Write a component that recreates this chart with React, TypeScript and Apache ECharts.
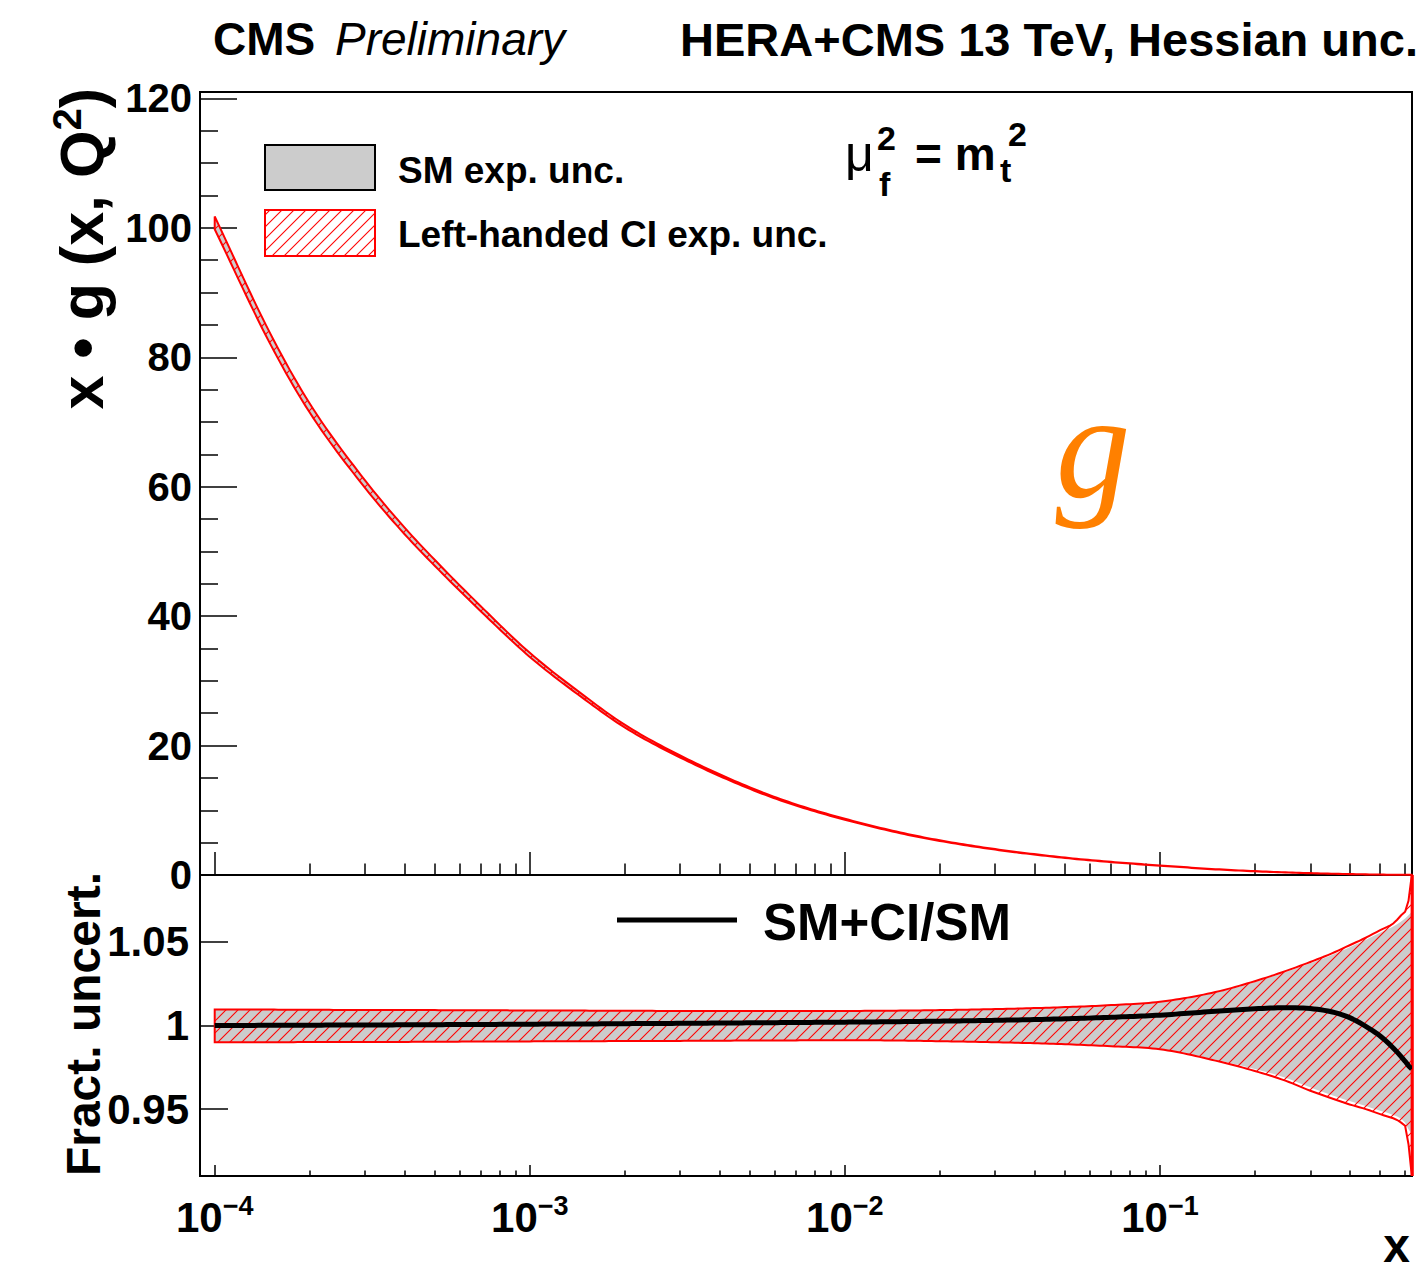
import React, { useEffect, useRef } from 'react';
import * as echarts from 'echarts';

// ---------------- data ----------------
const X_VALUES = [1e-4, 1.5e-4, 2e-4, 3e-4, 4e-4, 5e-4, 7e-4, 1e-3, 1.5e-3, 2e-3, 3e-3, 5e-3, 7e-3, 1e-2, 1.5e-2, 2e-2, 3e-2, 5e-2, 7e-2, 0.1, 0.15, 0.2, 0.25, 0.3, 0.35, 0.4, 0.45, 0.5, 0.55, 0.6, 0.615, 0.63];
// x * g(x, Q^2), SM central
const XG_SM = [100.8, 82.9, 72.2, 60.4, 53.2, 48.2, 41.1, 34.0, 27.3, 23.0, 18.3, 13.4, 10.8, 8.6, 6.5, 5.3, 3.95, 2.65, 2.0, 1.45, 0.88, 0.58, 0.4, 0.28, 0.2, 0.14, 0.095, 0.065, 0.042, 0.027, 0.023, 0.019];
// SM+CI / SM
const RATIO = [1.0, 1.0001, 1.0002, 1.0003, 1.0004, 1.0005, 1.0006, 1.0008, 1.0009, 1.0011, 1.0013, 1.0016, 1.0018, 1.002, 1.0023, 1.0026, 1.0031, 1.004, 1.0049, 1.0062, 1.0085, 1.01, 1.0106, 1.0101, 1.0082, 1.0047, 0.9995, 0.9937, 0.9866, 0.9786, 0.976, 0.974];
// Left-handed CI exp. unc. (fractional)
const CI_UP = [1.0095, 1.0095, 1.0094, 1.0093, 1.0093, 1.0092, 1.0091, 1.009, 1.0089, 1.0088, 1.0087, 1.0086, 1.0086, 1.0087, 1.0089, 1.0092, 1.0098, 1.011, 1.0122, 1.0142, 1.02, 1.0265, 1.0325, 1.038, 1.043, 1.048, 1.0525, 1.057, 1.061, 1.068, 1.0746, 1.2];
const CI_LO = [0.99, 0.99, 0.9901, 0.9902, 0.9902, 0.9903, 0.9904, 0.9905, 0.9906, 0.9907, 0.9908, 0.991, 0.9911, 0.9912, 0.991, 0.9906, 0.99, 0.9888, 0.9876, 0.9858, 0.979, 0.9728, 0.967, 0.961, 0.9565, 0.9528, 0.95, 0.947, 0.9445, 0.94, 0.929, 0.8];
// SM exp. unc. (fractional)
const SM_UP = [1.0095, 1.0095, 1.0094, 1.0093, 1.0093, 1.0092, 1.0091, 1.009, 1.0089, 1.0088, 1.0087, 1.0086, 1.0086, 1.0087, 1.0089, 1.0092, 1.0098, 1.011, 1.0122, 1.014, 1.0196, 1.026, 1.0318, 1.0372, 1.042, 1.0468, 1.0512, 1.0555, 1.0592, 1.064, 1.066, 1.068];
const SM_LO = [0.99, 0.99, 0.9901, 0.9902, 0.9902, 0.9903, 0.9904, 0.9905, 0.9906, 0.9907, 0.9908, 0.991, 0.9911, 0.9912, 0.991, 0.9906, 0.99, 0.9888, 0.9876, 0.986, 0.9795, 0.974, 0.9688, 0.963, 0.9585, 0.9548, 0.9518, 0.949, 0.9465, 0.942, 0.938, 0.935];

const X_MAJOR = [1e-4, 1e-3, 1e-2, 1e-1];
const X_MINOR_MULT = [2, 3, 4, 5, 6, 7, 8, 9];
const Y_TOP_MAJOR = [0, 20, 40, 60, 80, 100, 120];
const Y_TOP_MINOR = [5, 10, 15, 25, 30, 35, 45, 50, 55, 65, 70, 75, 85, 90, 95, 105, 110, 115];
const Y_BOT_MAJOR = [0.95, 1, 1.05];

const LOG_MIN = -4.0467;
const LOG_MAX = -0.2;
const Y_TOP_MAX = 121;
const Y_BOT_MIN = 0.91;
const Y_BOT_MAX = 1.09;

const FONT = '"Liberation Sans", Arial, Helvetica, sans-serif';
const RED = '#ff0000';

const LX = X_VALUES.map((x) => Math.log10(x));
const X_MAJOR_L = X_MAJOR.map((x) => Math.log10(x));
const X_MINOR_L: number[] = [];
X_MAJOR.forEach((d) => X_MINOR_MULT.forEach((m) => {
  const l = Math.log10(d * m);
  if (l > LOG_MIN && l < LOG_MAX) X_MINOR_L.push(l);
}));

// monotone cubic drawing of a curve through pixel points (rendering only)
function monoSample(pts: number[][]): number[][] {
  const m = pts.length;
  const xs = pts.map((p) => p[0]);
  const ys = pts.map((p) => p[1]);
  const d: number[] = [];
  for (let i = 0; i < m - 1; i++) d.push((ys[i + 1] - ys[i]) / (xs[i + 1] - xs[i]));
  const t: number[] = new Array(m).fill(0);
  t[0] = d[0];
  t[m - 1] = d[m - 2];
  for (let i = 1; i < m - 1; i++) t[i] = d[i - 1] * d[i] <= 0 ? 0 : (d[i - 1] + d[i]) / 2;
  for (let i = 0; i < m - 1; i++) {
    if (d[i] === 0) { t[i] = 0; t[i + 1] = 0; continue; }
    const a = t[i] / d[i];
    const b = t[i + 1] / d[i];
    const s = a * a + b * b;
    if (s > 9) {
      const tau = 3 / Math.sqrt(s);
      t[i] = tau * a * d[i];
      t[i + 1] = tau * b * d[i];
    }
  }
  const out: number[][] = [];
  for (let i = 0; i < m - 1; i++) {
    const h = xs[i + 1] - xs[i];
    const n = Math.max(1, Math.ceil(h / 4));
    for (let k = 0; k < n; k++) {
      const s = k / n;
      const s2 = s * s;
      const s3 = s2 * s;
      const h00 = 2 * s3 - 3 * s2 + 1;
      const h10 = s3 - 2 * s2 + s;
      const h01 = -2 * s3 + 3 * s2;
      const h11 = s3 - s2;
      out.push([xs[i] + s * h, h00 * ys[i] + h10 * h * t[i] + h01 * ys[i + 1] + h11 * h * t[i + 1]]);
    }
  }
  out.push([xs[m - 1], ys[m - 1]]);
  return out;
}

function lin(a: number, b: number): [number, number] {
  if (Math.abs(b) < 1e-12) return a >= 0 ? [0, 1] : [1, 0];
  const r = -a / b;
  return b > 0 ? [Math.max(0, r), 1] : [0, Math.min(1, r)];
}

// 45-degree hatch segments inside an x-monotone band (pixel coords)
function hatchSegments(top: number[][], bot: number[][], step: number): number[][] {
  const segs: number[][] = [];
  let cMin = Infinity;
  let cMax = -Infinity;
  top.concat(bot).forEach((p) => {
    const c = p[0] + p[1];
    if (c < cMin) cMin = c;
    if (c > cMax) cMax = c;
  });
  const k0 = Math.ceil(cMin / step);
  const k1 = Math.floor(cMax / step);
  for (let k = k0; k <= k1; k++) {
    const c = k * step;
    let cur: number[] | null = null;
    for (let i = 0; i < top.length - 1; i++) {
      const xa = top[i][0];
      const xb = top[i + 1][0];
      const dx = xb - xa;
      if (dx <= 0) continue;
      const ta = top[i][1], tb = top[i + 1][1], ba = bot[i][1], bb = bot[i + 1][1];
      const r1 = lin(c - xa - ta, -dx - (tb - ta));
      const r2 = lin(ba - c + xa, (bb - ba) + dx);
      const lo = Math.max(r1[0], r2[0]);
      const hi = Math.min(r1[1], r2[1]);
      if (hi > lo + 1e-9) {
        const x0 = xa + dx * lo;
        const x1 = xa + dx * hi;
        if (cur && Math.abs(cur[2] - x0) < 1e-6) {
          cur[2] = x1;
          cur[3] = c - x1;
        } else {
          if (cur) segs.push(cur);
          cur = [x0, c - x0, x1, c - x1];
        }
      }
    }
    if (cur) segs.push(cur);
  }
  return segs;
}

// hatch strokes drawn as thin filled parallelograms
function hatchShapes(segs: number[][], z = 0) {
  const w = 0.75;
  return segs.map((s) => ({
    type: 'polygon',
    silent: true,
    z,
    shape: { points: [[s[0] - w, s[1]], [s[2] - w, s[3]], [s[2] + w, s[3]], [s[0] + w, s[1]]] },
    style: { fill: RED, stroke: null, lineWidth: 0 },
  }));
}

function clampY(pts: number[][], cs: any): number[][] {
  const y0 = cs.y;
  const y1 = cs.y + cs.height;
  return pts.map((p) => [p[0], Math.min(Math.max(p[1], y0), y1)]);
}

function makeBand(lo: number[], hi: number[], kind: 'gray' | 'red') {
  return (params: any, api: any) => {
    if (params.dataIndex !== 0) return null;
    const cs = params.coordSys;
    const top = clampY(monoSample(LX.map((lx, i) => api.coord([lx, hi[i]]))), cs);
    const bot = clampY(monoSample(LX.map((lx, i) => api.coord([lx, lo[i]]))), cs);
    const pts = top.concat(bot.slice().reverse());
    if (kind === 'gray') {
      return { type: 'polygon', shape: { points: pts }, style: { fill: '#cccccc', stroke: null } };
    }
    const children: any[] = hatchShapes(hatchSegments(top, bot, 12));
    children.push({ type: 'polygon', shape: { points: pts }, style: { fill: null, stroke: RED, lineWidth: 2 } });
    // right-hand closing edge of the band, drawn over the frame
    const lt = top[top.length - 1];
    const lb = bot[bot.length - 1];
    children.push({ type: 'rect', shape: { x: lt[0] - 1, y: lt[1], width: 3, height: lb[1] - lt[1] }, style: { fill: RED, stroke: null } });
    return { type: 'group', children };
  };
}

function makeCurve(vals: number[]) {
  return (params: any, api: any) => {
    if (params.dataIndex !== 0) return null;
    const pts = monoSample(LX.map((lx, i) => api.coord([lx, vals[i]])));
    return { type: 'polyline', shape: { points: pts }, style: { fill: null, stroke: '#000000', lineWidth: 5, lineJoin: 'round' } };
  };
}

function txt(text: string, x: number, y: number, size: number, o: any = {}) {
  const font = `${o.italic ? 'italic ' : ''}${o.weight || 'bold'} ${size}px ${o.family || FONT}`;
  return {
    type: 'text',
    x,
    y,
    rotation: o.rotation || 0,
    silent: true,
    z: 100,
    style: {
      text,
      font,
      fill: o.color || '#000',
      textAlign: o.align || 'left',
      align: o.align || 'left',
      textVerticalAlign: 'middle',
      verticalAlign: 'middle',
      rich: o.rich,
    },
  };
}

function buildOption() {
  const topGrayLo = XG_SM.map((v, i) => v * SM_LO[i]);
  const topGrayHi = XG_SM.map((v, i) => v * SM_UP[i]);
  const topRedLo = XG_SM.map((v, i) => v * RATIO[i] * CI_LO[i]);
  const topRedHi = XG_SM.map((v, i) => v * RATIO[i] * CI_UP[i]);

  const bandData = (lo: number[], hi: number[]) => LX.map((lx, i) => [lx, lo[i], hi[i]]);

  const tickStyle = { color: '#000', width: 1.5 };
  const mkX = (gridIndex: number, values: number[], len: number, labels: boolean) => ({
    type: 'value',
    gridIndex,
    position: 'bottom',
    min: LOG_MIN,
    max: LOG_MAX,
    axisLine: { show: false, onZero: false },
    splitLine: { show: false },
    axisTick: { show: true, inside: true, length: len, customValues: values, lineStyle: tickStyle },
    axisLabel: labels
      ? {
          show: true,
          customValues: X_MAJOR_L,
          margin: 16,
          formatter: (v: number) => `{b|10}{s|\u2212${Math.round(-v)}}`,
          rich: {
            b: { fontSize: 42, fontWeight: 'bold', fontFamily: FONT, color: '#000', lineHeight: 50 },
            s: { fontSize: 27, fontWeight: 'bold', fontFamily: FONT, color: '#000', lineHeight: 20, verticalAlign: 'top' },
          },
        }
      : { show: false },
  });
  const mkY = (gridIndex: number, min: number, max: number, values: number[], len: number, label: any) => ({
    type: 'value',
    gridIndex,
    position: 'left',
    min,
    max,
    axisLine: { show: false, onZero: false },
    splitLine: { show: false },
    axisTick: { show: true, inside: true, length: len, customValues: values, lineStyle: tickStyle },
    axisLabel: label
      ? {
          show: true,
          customValues: values,
          margin: label.margin,
          color: '#000',
          fontSize: label.size,
          fontWeight: 'bold',
          fontFamily: FONT,
          formatter: (v: number) => String(v),
        }
      : { show: false },
  });

  // legend hatch
  const legHatch = hatchShapes(hatchSegments([[265, 210], [375, 210]], [[265, 256], [375, 256]], 12), 100);

  const graphic: any[] = [
    txt('CMS', 213, 39, 46),
    txt('Preliminary', 335, 39, 46, { italic: true, weight: 'normal' }),
    txt('HERA+CMS 13 TeV, Hessian unc.', 1418, 39, 47, { align: 'right' }),
    { type: 'rect', silent: true, z: 100, shape: { x: 265, y: 145, width: 110, height: 45 }, style: { fill: '#cccccc', stroke: '#000', lineWidth: 2 } },
    ...legHatch,
    { type: 'rect', silent: true, z: 101, shape: { x: 265, y: 210, width: 110, height: 46 }, style: { fill: null, stroke: RED, lineWidth: 2 } },
    txt('SM exp. unc.', 398, 170, 37),
    txt('Left-handed CI exp. unc.', 398, 234, 37),
    txt('\u03bc', 845, 154, 50, { weight: 'normal' }),
    txt('2', 877, 138, 34),
    txt('f', 879, 184, 34),
    txt('= m', 915, 154, 46),
    txt('t', 1000, 170, 34),
    txt('2', 1008, 134, 34),
    txt('g', 1093, 446, 150, { italic: true, weight: 'normal', family: '"Liberation Serif", "DejaVu Serif", serif', color: '#ff8000', align: 'center' }),
    { type: 'line', silent: true, z: 100, shape: { x1: 617, y1: 920, x2: 737, y2: 920 }, style: { stroke: '#000', lineWidth: 5 } },
    txt('SM+CI/SM', 763, 922, 51),
    txt('x', 1410, 1245, 48, { align: 'right' }),
    txt('{m|x \u2022 g (x, Q}{s|2}{m|)}', 82, 88, 61, {
      align: 'right',
      rotation: Math.PI / 2,
      rich: {
        m: { fontSize: 61, fontWeight: 'bold', fontFamily: FONT, fill: '#000', lineHeight: 70 },
        s: { fontSize: 40, fontWeight: 'bold', fontFamily: FONT, fill: '#000', lineHeight: 40, verticalAlign: 'top' },
      },
    }),
    txt('Fract. uncert.', 83, 872, 48, { align: 'right', rotation: Math.PI / 2 }),
  ];

  return {
    animation: false,
    backgroundColor: '#ffffff',
    grid: [
      { z: 0, left: 200, top: 92, width: 1212, height: 783, show: true, borderColor: '#000', borderWidth: 2, backgroundColor: 'transparent', outerBoundsMode: 'none' },
      { z: 0, left: 200, top: 875, width: 1212, height: 301, show: true, borderColor: '#000', borderWidth: 2, backgroundColor: 'transparent', outerBoundsMode: 'none' },
    ],
    xAxis: [
      mkX(0, X_MAJOR_L, 23, false),
      mkX(0, X_MINOR_L, 11.5, false),
      mkX(1, X_MAJOR_L, 11, true),
      mkX(1, X_MINOR_L, 5.5, false),
    ],
    yAxis: [
      mkY(0, 0, Y_TOP_MAX, Y_TOP_MAJOR, 37, { size: 40, margin: 8 }),
      mkY(0, 0, Y_TOP_MAX, Y_TOP_MINOR, 18, null),
      mkY(1, Y_BOT_MIN, Y_BOT_MAX, Y_BOT_MAJOR, 28, { size: 42, margin: 11 }),
    ],
    series: [
      { type: 'custom', xAxisIndex: 0, yAxisIndex: 0, clip: false, silent: true, z: 3, encode: { x: 0, y: [1, 2] }, data: bandData(topGrayLo, topGrayHi), renderItem: makeBand(topGrayLo, topGrayHi, 'gray') },
      { type: 'custom', xAxisIndex: 0, yAxisIndex: 0, clip: false, silent: true, z: 4, encode: { x: 0, y: [1, 2] }, data: bandData(topRedLo, topRedHi), renderItem: makeBand(topRedLo, topRedHi, 'red') },
      { type: 'custom', xAxisIndex: 2, yAxisIndex: 2, clip: false, silent: true, z: 3, encode: { x: 0, y: [1, 2] }, data: bandData(SM_LO, SM_UP), renderItem: makeBand(SM_LO, SM_UP, 'gray') },
      { type: 'custom', xAxisIndex: 2, yAxisIndex: 2, clip: false, silent: true, z: 4, encode: { x: 0, y: [1, 2] }, data: bandData(CI_LO, CI_UP), renderItem: makeBand(CI_LO, CI_UP, 'red') },
      { type: 'custom', xAxisIndex: 2, yAxisIndex: 2, clip: true, silent: true, z: 6, encode: { x: 0, y: 1 }, data: LX.map((lx, i) => [lx, RATIO[i]]), renderItem: makeCurve(RATIO) },
    ],
    graphic,
  };
}

export default function App() {
  const ref = useRef<HTMLDivElement>(null);
  useEffect(() => {
    document.body.style.margin = '0';
    const chart = echarts.init(ref.current as HTMLDivElement, null, { renderer: 'svg' });
    chart.setOption(buildOption() as any);
    return () => chart.dispose();
  }, []);
  return <div ref={ref} style={{ width: 1426, height: 1274 }} />;
}
